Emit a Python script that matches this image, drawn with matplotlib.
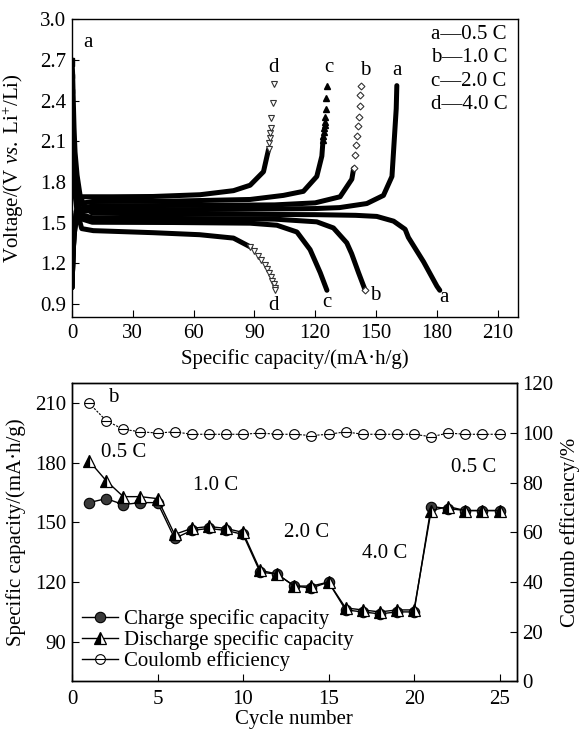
import matplotlib
matplotlib.use("Agg")
import matplotlib.pyplot as plt
from matplotlib.legend_handler import HandlerTuple
from matplotlib.lines import Line2D

plt.rcParams.update({
    "font.family": ["Liberation Serif", "DejaVu Serif"],
    "font.size": 15,
    "mathtext.fontset": "custom",
    "mathtext.rm": "Liberation Serif",
    "mathtext.it": "Liberation Serif:italic",
    "axes.linewidth": 1.0,
    "xtick.direction": "in",
    "ytick.direction": "in",
    "xtick.major.size": 5,
    "ytick.major.size": 5,
})

# ---------------- top panel: charge/discharge curves (capacity, voltage) ----
a_dis_cap = [0, 0.3, 0.6, 1.0, 1.5, 2.5, 4, 6, 10, 30, 60, 90, 120, 140, 150.4, 158.7, 164.4, 166, 173.5, 180.1, 181.5]
a_dis_V = [2.70, 2.60, 2.42, 2.20, 2.02, 1.85, 1.70, 1.62, 1.57, 1.565, 1.562, 1.56, 1.558, 1.553, 1.545, 1.51, 1.45, 1.39, 1.21, 1.03, 1.00]
a_chg_cap = [0, 0.5, 1.0, 2.0, 4, 10, 40, 80, 120, 132, 145.5, 153.7, 157.9, 158.7, 160, 160.3]
a_chg_V = [1.02, 1.25, 1.40, 1.52, 1.58, 1.59, 1.594, 1.597, 1.603, 1.61, 1.64, 1.70, 1.84, 2.03, 2.34, 2.51]

b_dis_cap = [0, 0.5, 1.2, 2.5, 4, 10, 50, 100, 120.8, 129, 135.6, 138, 141.4, 144.7]
b_dis_V = [2.15, 1.95, 1.80, 1.65, 1.56, 1.535, 1.53, 1.525, 1.505, 1.46, 1.35, 1.27, 1.13, 1.00]
b_chg_cap = [0, 0.5, 1.0, 2.0, 4, 10, 50, 100, 120, 132.3, 138.1, 139.0]
b_chg_V = [1.02, 1.25, 1.40, 1.53, 1.60, 1.622, 1.626, 1.63, 1.645, 1.69, 1.82, 1.90]
b_top_cap = [139.0, 139.8, 140.3, 140.8, 141.2, 141.6, 142.0, 142.3, 142.6]
b_top_V = [1.90, 2.00, 2.07, 2.14, 2.21, 2.28, 2.36, 2.44, 2.51]

c_dis_cap = [0, 0.5, 1.2, 2.5, 4, 10, 50, 87.9, 101.1, 111, 117.5, 122.5, 125.8]
c_dis_V = [2.12, 1.92, 1.78, 1.62, 1.53, 1.502, 1.50, 1.495, 1.48, 1.43, 1.30, 1.13, 1.00]
c_chg_cap = [0, 0.5, 1, 2, 4, 10, 50, 87.9, 104.3, 114.2, 120.8, 123.3, 123.9]
c_chg_V = [1.02, 1.25, 1.42, 1.56, 1.64, 1.655, 1.658, 1.67, 1.70, 1.73, 1.84, 1.99, 2.11]
c_top_cap = [123.9, 124.1, 124.3, 124.5, 124.7, 124.9, 125.1, 125.3, 125.4, 125.8]
c_top_V = [2.11, 2.14, 2.17, 2.20, 2.22, 2.245, 2.28, 2.34, 2.42, 2.51]

d_dis_cap = [0, 0.5, 1.2, 2.5, 4.8, 10.5, 40, 63, 79.7, 88]
d_dis_V = [2.10, 1.90, 1.75, 1.58, 1.455, 1.44, 1.425, 1.41, 1.385, 1.32]
d_tail_cap = [88, 90, 92, 93.5, 95, 96.3, 97.3, 98.2, 98.9, 99.5, 100.0, 100.2]
d_tail_V = [1.32, 1.29, 1.25, 1.22, 1.19, 1.16, 1.13, 1.10, 1.07, 1.05, 1.02, 1.00]
d_chg_cap = [0, 0.5, 1, 2, 4.8, 20, 40, 63.2, 79.7, 87.9, 94.5, 97]
d_chg_V = [1.02, 1.25, 1.42, 1.58, 1.69, 1.69, 1.692, 1.705, 1.735, 1.775, 1.875, 2.04]
d_top_cap = [97.0, 97.3, 97.6, 97.9, 98.1, 98.4, 99.4, 99.8]
d_top_V = [2.04, 2.09, 2.12, 2.16, 2.20, 2.27, 2.38, 2.52]

rate_labels = ["a\u20140.5 C", "b\u20141.0 C", "c\u20142.0 C", "d\u20144.0 C"]

# ---------------- bottom panel: rate performance ----
cycles = list(range(1, 26))
charge_cap = [160, 162, 159, 160, 160, 142, 146, 147, 146, 144, 125, 124, 118, 117, 120,
              106, 105, 104, 105, 105, 158, 157, 156, 156, 156]
discharge_cap = [181, 171, 163, 163, 162, 144, 147, 148, 147, 145, 126, 124, 118, 118, 120,
                 107, 106, 105, 106, 106, 156, 158, 156, 156, 156]
coulomb_eff = [112, 105, 101.5, 100.5, 100, 100.5, 99.5, 99.5, 99.5, 99.5, 100, 99.5, 99.5, 99,
               99.5, 100.5, 99.5, 99.5, 99.5, 99.5, 98.5, 100, 99.5, 99.5, 99.5]

fig = plt.figure(figsize=(5.82, 7.33), dpi=100)
ax1 = fig.add_axes([0.1237, 0.567, 0.766, 0.4068])
ax2 = fig.add_axes([0.1237, 0.0703, 0.764, 0.4067])

LW = 3.6
for cap, V in [(a_dis_cap, a_dis_V), (a_chg_cap, a_chg_V), (b_dis_cap, b_dis_V),
               (b_chg_cap, b_chg_V), (c_dis_cap, c_dis_V), (c_chg_cap, c_chg_V),
               (d_dis_cap, d_dis_V), (d_chg_cap, d_chg_V)]:
    ax1.plot(cap, V, color="black", lw=LW, solid_capstyle="round", solid_joinstyle="round", zorder=2)

ax1.plot(d_tail_cap, d_tail_V, ls="none", marker="v", ms=4.5, mfc="white", mec="#333333", mew=0.8, zorder=3)
ax1.plot(d_top_cap, d_top_V, ls="none", marker="v", ms=4.5, mfc="white", mec="#333333", mew=0.8, zorder=3)
ax1.plot(c_top_cap, c_top_V, ls="none", marker="^", ms=4.5, mfc="black", mec="black", zorder=3)
ax1.plot(b_top_cap, b_top_V, ls="none", marker="D", ms=3.5, mfc="white", mec="#333333", mew=0.8, zorder=3)
ax1.plot([144.7], [1.0], ls="none", marker="D", ms=3.5, mfc="white", mec="#333333", mew=0.8, zorder=3)
ax1.plot([0.2, 0.2, 0.2, 0.2], [2.70, 2.67, 2.58, 2.47], ls="none", marker="s", ms=3.5, color="black", zorder=3)

ax1.set_xlim(0, 220)
ax1.set_ylim(0.8, 3.0)
ax1.set_xticks(range(0, 211, 30))
ax1.set_yticks([0.9, 1.2, 1.5, 1.8, 2.1, 2.4, 2.7, 3.0])
ax1.set_yticklabels([f"{v:.1f}" for v in [0.9, 1.2, 1.5, 1.8, 2.1, 2.4, 2.7, 3.0]])
ax1.tick_params(axis="x", pad=5)
ax1.tick_params(axis="y", pad=4)
ax1.set_xlabel("Specific capacity/(mA\u00b7h/g)", labelpad=4)
ax1.set_ylabel(r"Voltage/(V $\it{vs.}$ Li$^{+}$/Li)")
ax1.yaxis.set_label_coords(-0.104, 0.5)

# curve letters
for s, x, y in [("a", 8, 2.83), ("d", 99.4, 2.64), ("c", 126.6, 2.64), ("b", 144.7, 2.62),
                ("a", 160.3, 2.62), ("d", 99.4, 0.89), ("c", 125.8, 0.91), ("b", 149.6, 0.96),
                ("a", 183.4, 0.95)]:
    ax1.text(x, y, s, ha="center", va="center")
for i, s in enumerate(rate_labels):
    ax1.text(177.3, 2.884 - i * 0.17, s, ha="left", va="center")

# bottom panel
ax3 = ax2.twinx()
ax2.plot(cycles, charge_cap, color="black", lw=1.0, marker="o", ms=7.5,
         mfc="#3a3a3a", mec="black", mew=0.8, zorder=3)
ax2.plot(cycles, discharge_cap, color="black", lw=1.0, marker="^", ms=8,
         fillstyle="left", mfc="black", mfcalt="white", mec="black", mew=0.9, zorder=4)
ax3.plot(cycles, coulomb_eff, color="black", lw=0.8, ls=(0, (2, 1.2)), marker="o", ms=7,
         mfc="white", mec="black", mew=0.8, zorder=3)
ax3.plot(cycles, coulomb_eff, ls="none", marker="_", ms=7, mec="black", mew=0.8, zorder=4)

ax2.set_xlim(0, 26)
ax2.set_ylim(70, 220)
ax2.set_xticks(range(0, 26, 5))
ax2.set_yticks(range(90, 211, 30))
ax3.set_ylim(0, 120)
ax3.set_yticks(range(0, 121, 20))
ax2.tick_params(axis="x", pad=6)
ax2.tick_params(axis="y", pad=4)
ax3.tick_params(axis="y", pad=4)
ax2.set_xlabel("Cycle number", labelpad=1)
ax2.set_ylabel("Specific capacity/(mA\u00b7h/g)")
ax2.yaxis.set_label_coords(-0.104, 0.5)
ax3.set_ylabel("Coulomb efficiency/%")
ax3.yaxis.set_label_coords(1.098, 0.5)

for s, x, y in [("b", 2.4, 213), ("0.5 C", 3.0, 185), ("1.0 C", 8.4, 168.5),
                ("2.0 C", 13.7, 145.2), ("4.0 C", 18.3, 134.3), ("0.5 C", 23.5, 177.7)]:
    ax2.text(x, y, s, ha="center", va="center")

h_chg = Line2D([], [], color="black", lw=1.0, marker="o", ms=7.5, mfc="#3a3a3a", mec="black", mew=0.8)
h_dis = Line2D([], [], color="black", lw=1.0, marker="^", ms=8, fillstyle="left",
               mfc="black", mfcalt="white", mec="black", mew=0.9)
h_ce1 = Line2D([], [], color="black", lw=1.0, marker="o", ms=7, mfc="white", mec="black", mew=0.8)
h_ce2 = Line2D([], [], ls="none", marker="_", ms=7, mec="black", mew=0.8)
ax2.legend([h_chg, h_dis, (h_ce1, h_ce2)],
           ["Charge specific capacity", "Discharge specific capacity", "Coulomb efficiency"],
           handler_map={tuple: HandlerTuple(ndivide=1)},
           loc="lower left", bbox_to_anchor=(0.0, 0.0), frameon=False,
           handlelength=1.7, handletextpad=0.3, labelspacing=0.05, borderaxespad=0.3,
           borderpad=0.2)

fig.savefig("out.png", dpi=100)
